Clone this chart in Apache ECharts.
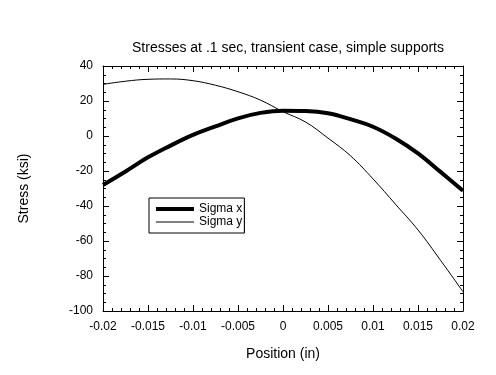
<!DOCTYPE html>
<html>
<head>
<meta charset="utf-8">
<script src="https://cdn.jsdelivr.net/npm/echarts@6/dist/echarts.min.js"></script>
<style>html,body{margin:0;padding:0;background:#fff}#c{width:496px;height:375px}</style>
</head>
<body>
<div id="c"></div>
<script>
const positions = [-0.02, -0.0175, -0.015, -0.0125, -0.01, -0.0075, -0.005, -0.0025, 0, 0.0025, 0.005, 0.0075, 0.01, 0.0125, 0.015, 0.0175, 0.02];
const sigmaX = [-28, -20.3, -12.2, -5.5, 0.6, 5.5, 10.1, 13.2, 14.5, 14.3, 13, 9.6, 5.3, -1.4, -9.9, -20.5, -31.3];
const sigmaY = [29.5, 31.3, 32.4, 32.6, 31.6, 29.0, 25.3, 20.5, 13.9, 8.0, -1.2, -11.3, -24.5, -39, -53.7, -71, -89];
const seriesNames = ['Sigma x', 'Sigma y'];
const titleText = 'Stresses at .1 sec, transient case, simple supports';
const xName = 'Position (in)';
const yName = 'Stress (ksi)';

const font = 'Liberation Sans, Arial, sans-serif';
const chart = echarts.init(document.getElementById('c'), null, {renderer: 'canvas'});
const pairs = a => positions.map((p, i) => [p, a[i]]);
const tickCommon = {show: true, inside: true, length: 6, lineStyle: {color: '#000', width: 1}};
const minorCommon = (n) => ({show: true, splitNumber: n, length: 3, lineStyle: {color: '#000', width: 1}});
const xBase = {type: 'value', min: -0.02, max: 0.02, interval: 0.005,
  axisLine: {show: true, onZero: false, lineStyle: {color: '#000', width: 1}},
  axisTick: tickCommon, minorTick: minorCommon(5), splitLine: {show: false}};
const yBase = {type: 'value', min: -100, max: 40, interval: 20,
  axisLine: {show: true, onZero: false, lineStyle: {color: '#000', width: 1}},
  axisTick: tickCommon, minorTick: minorCommon(4), splitLine: {show: false}};
const widths = [4, 1];
chart.setOption({
  animation: false,
  backgroundColor: '#fff',
  title: {text: titleText, left: 283, top: 36, textAlign: 'center',
    textStyle: {fontFamily: font, fontSize: 14, fontWeight: 'normal', color: '#000'}},
  grid: {left: 103, top: 66, width: 360, height: 245, show: false},
  graphic: [{type: 'rect', left: 152, top: 201, shape: {width: 93, height: 32}, style: {fill: '#000'}, z: 3, silent: true}],
  legend: {orient: 'vertical', left: 149, top: 198, itemWidth: 38, itemHeight: 10, itemGap: 1,
    padding: [5, 2, 5, 5], backgroundColor: '#fff', borderColor: '#000', borderWidth: 1, borderRadius: 0, z: 5,
    textStyle: {fontFamily: font, fontSize: 12, color: '#000'},
    data: seriesNames.map((n, i) => ({name: n, itemStyle: {opacity: 0}, lineStyle: {width: widths[i], color: '#000', opacity: 1}}))},
  xAxis: [
    Object.assign({}, xBase, {position: 'bottom', name: xName, nameLocation: 'middle', nameGap: 36,
      nameTextStyle: {fontFamily: font, fontSize: 14, color: '#000'},
      axisLabel: {show: true, margin: 10, fontFamily: font, fontSize: 12, color: '#000'}}),
    Object.assign({}, xBase, {position: 'top', axisLabel: {show: false}})
  ],
  yAxis: [
    Object.assign({}, yBase, {position: 'left', name: yName, nameLocation: 'middle', nameGap: 72,
      nameTextStyle: {fontFamily: font, fontSize: 14, color: '#000'},
      axisLabel: {show: true, margin: 10, fontFamily: font, fontSize: 12, color: '#000'}}),
    Object.assign({}, yBase, {position: 'right', axisLabel: {show: false}})
  ],
  series: [
    {name: seriesNames[0], type: 'line', data: pairs(sigmaX), smooth: 0.4, showSymbol: false, symbol: 'none',
      lineStyle: {color: '#000', width: widths[0]}, itemStyle: {color: '#000'}},
    {name: seriesNames[1], type: 'line', data: pairs(sigmaY), smooth: 0.4, showSymbol: false, symbol: 'none',
      lineStyle: {color: '#000', width: widths[1]}, itemStyle: {color: '#000'}}
  ]
});
</script>
</body>
</html>
